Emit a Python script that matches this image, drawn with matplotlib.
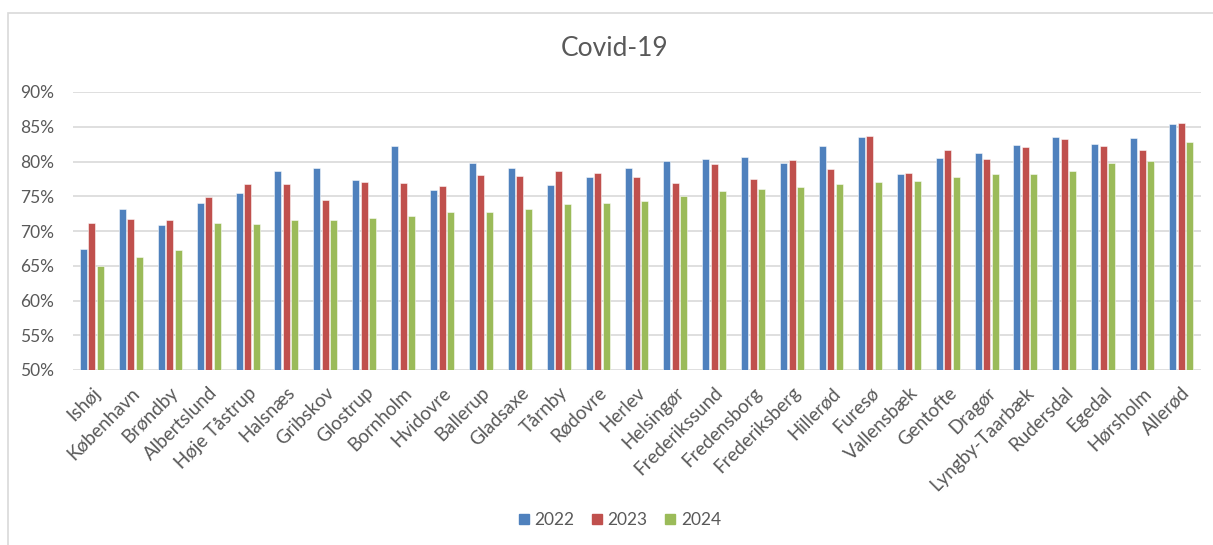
import matplotlib
matplotlib.use("Agg")
import matplotlib.pyplot as plt
import numpy as np
from matplotlib.patches import Rectangle

categories = ["Ishøj", "København", "Brøndby", "Albertslund", "Høje Tåstrup", "Halsnæs",
              "Gribskov", "Glostrup", "Bornholm", "Hvidovre", "Ballerup", "Gladsaxe",
              "Tårnby", "Rødovre", "Herlev", "Helsingør", "Frederikssund", "Fredensborg",
              "Frederiksberg", "Hillerød", "Furesø", "Vallensbæk", "Gentofte", "Dragør",
              "Lyngby-Taarbæk", "Rudersdal", "Egedal", "Hørsholm", "Allerød"]
v2022 = [67.4, 73.1, 70.9, 74.1, 75.5, 78.7, 79.1, 77.4, 82.3, 75.9, 79.8, 79.0,
         76.6, 77.7, 79.1, 80.1, 80.3, 80.7, 79.8, 82.2, 83.5, 78.2, 80.5, 81.2,
         82.4, 83.5, 82.5, 83.4, 85.4]
v2023 = [71.2, 71.7, 71.6, 74.9, 76.8, 76.8, 74.5, 77.1, 76.9, 76.5, 78.0, 77.9,
         78.6, 78.3, 77.8, 76.9, 79.7, 77.5, 80.2, 78.9, 83.6, 78.3, 81.6, 80.4,
         82.1, 83.3, 82.3, 81.6, 85.5]
v2024 = [65.0, 66.2, 67.3, 71.1, 71.0, 71.6, 71.6, 71.9, 72.1, 72.7, 72.8, 73.1,
         73.9, 74.0, 74.3, 75.1, 75.7, 76.1, 76.4, 76.8, 77.1, 77.2, 77.8, 78.2,
         78.2, 78.7, 79.8, 80.1, 82.8]
series_names = ["2022", "2023", "2024"]
title = "Covid-19"
yticks = [50, 55, 60, 65, 70, 75, 80, 85, 90]

colors = ["#4F81BD", "#C0504D", "#9BBB59"]
txt = "#595959"
grid = "#D9D9D9"
font = ["Lato", "DejaVu Sans"]
plt.rcParams["font.family"] = font

W, H = 1213, 545
fig = plt.figure(figsize=(W / 100, H / 100), dpi=100)
fig.patch.set_facecolor("white")

# chart frame
fig.patches.append(Rectangle((8 / W, -0.05), 1.2, 1 - 13 / H + 0.05, transform=fig.transFigure,
                             fill=False, edgecolor=grid, linewidth=1.2))

left, right, top, bottom = 72.5, 1200.5, 92, 370
ax = fig.add_axes([left / W, 1 - bottom / H, (right - left) / W, (bottom - top) / H])

x = np.arange(len(categories))
bw = 0.18
pitch = 0.218
for i, (vals, c, name) in enumerate(zip([v2022, v2023, v2024], colors, series_names)):
    ax.bar(x + (i - 1) * pitch, np.array(vals) - 50, bottom=50, width=bw, color=c,
           edgecolor=(1, 1, 1, 0.6), linewidth=0.6, label=name, zorder=3)

ax.set_xlim(-0.5, len(categories) - 0.5)
ax.set_ylim(50, 90)
ax.set_yticks(yticks)
ax.set_yticklabels([f"{t}%" for t in yticks])
ax.yaxis.grid(True, color=grid, linewidth=1.2, zorder=0)
ax.set_axisbelow(True)
for s in ax.spines.values():
    s.set_visible(False)
ax.tick_params(axis="both", length=0, labelcolor=txt)
ax.tick_params(axis="y", pad=13, labelsize=12.5)
ax.set_xticks(x)
ax.set_xticklabels(categories, rotation=45, ha="right", va="top", rotation_mode="anchor",
                   fontsize=13.5)
ax.tick_params(axis="x", pad=10)

fig.text(615 / W, 1 - 48 / H, title, ha="center", va="center", fontsize=19, color=txt)

handles = [Rectangle((0, 0), 1, 1, color=c) for c in colors]
leg = fig.legend(handles, series_names, loc="center", bbox_to_anchor=(620 / W, 1 - 520 / H),
                 ncol=3, frameon=False, fontsize=12.5, handlelength=0.55, handleheight=0.55,
                 handletextpad=0.35, columnspacing=1.0, labelcolor=txt)

fig.savefig("out.png", dpi=100)
